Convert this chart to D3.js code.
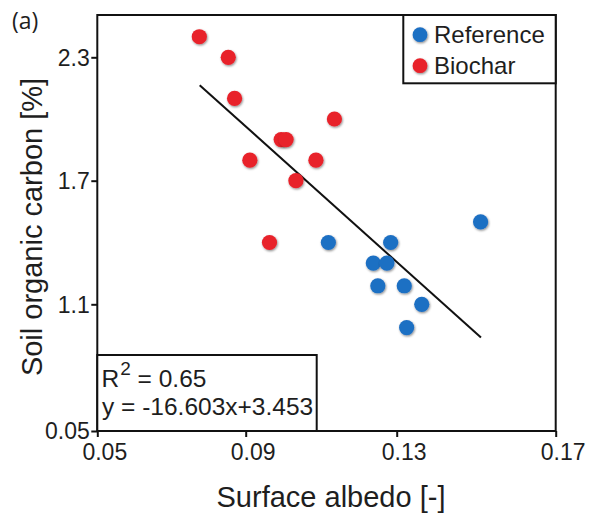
<!DOCTYPE html>
<html>
<head>
<meta charset="utf-8">
<script src="https://cdn.jsdelivr.net/npm/d3@7"></script>
<style>
  html, body { margin: 0; padding: 0; background: #fff; }
  svg { display: block; }
  svg text { font-family: "Liberation Sans", Arial, Helvetica, sans-serif; fill: #1e1e1e; }
  svg text.panel { font-family: "Open Sans", sans-serif; }
</style>
</head>
<body>
<svg id="chart" width="589" height="515"></svg>
<script>
// Axis ticks
const xTicks = [0.05, 0.09, 0.13, 0.17];
const xTickLabels = ["0.05", "0.09", "0.13", "0.17"];
const yTicks = [0.5, 1.1, 1.7, 2.3];
const yTickLabels = ["0.05", "1.1", "1.7", "2.3"];

// Reference plots: surface albedo [-] and soil organic carbon [%]
const referenceAlbedo = [0.1119, 0.1284, 0.1238, 0.1274, 0.1250, 0.1319, 0.1363, 0.1325, 0.1511];
const referenceSOC    = [1.40,   1.40,   1.30,   1.30,   1.19,   1.19,   1.10,   0.99,   1.50];

// Biochar plots
const biocharAlbedo = [0.0775, 0.0853, 0.0870, 0.0994, 0.1007, 0.0911, 0.0963, 0.1033, 0.1135, 0.1086];
const biocharSOC    = [2.40,   2.30,   2.10,   1.90,   1.90,   1.80,   1.40,   1.70,   2.00,   1.80];

// Linear fit across both groups
const fitSlope = -16.603;
const fitIntercept = 3.453;
const fitR2 = 0.65;
const fitAlbedoRange = [0.0776, 0.1512];

const seriesNames = ["Reference", "Biochar"];
const seriesColors = ["#1f6fc3", "#e8212a"];

const svg = d3.select("#chart");

const x = d3.scaleLinear().domain(xTicks).range([97.3, 245.7, 396.7, 555.7]);
const y = d3.scaleLinear().domain(yTicks).range([431, 304.3, 180.7, 57.3]);

const plotLeft = x(0.05), plotRight = x(0.17), plotBottom = y(0.5), plotTop = 15;

// soft drop shadow under the markers
const defs = svg.append("defs");
const shadow = defs.append("filter").attr("id", "dotShadow")
  .attr("x", "-50%").attr("y", "-50%").attr("width", "200%").attr("height", "200%");
shadow.append("feDropShadow").attr("dx", 0.8).attr("dy", 1.2)
  .attr("stdDeviation", 1.3).attr("flood-color", "#000").attr("flood-opacity", 0.45);

// panel label
svg.append("text").attr("class", "panel").attr("x", 12).attr("y", 29)
  .attr("font-size", 23).text("(a)");

// axes
const xAxis = d3.axisBottom(x).tickValues(xTicks)
  .tickFormat((d, i) => xTickLabels[i]).tickSize(6).tickSizeOuter(0);
const yAxis = d3.axisLeft(y).tickValues(yTicks)
  .tickFormat((d, i) => yTickLabels[i]).tickSize(6).tickSizeOuter(0);

const gx = svg.append("g").attr("transform", `translate(0,${plotBottom})`).call(xAxis);
gx.attr("font-family", null).attr("font-size", null);
gx.select(".domain").remove();
gx.selectAll(".tick line").attr("stroke", "#111").attr("stroke-width", 2);
gx.selectAll(".tick text").attr("font-size", 23)
  .attr("fill", null).attr("dx", 7).attr("y", 29).attr("dy", 0);

const gy = svg.append("g").attr("transform", `translate(${plotLeft},0)`).call(yAxis);
gy.attr("font-family", null).attr("font-size", null);
gy.select(".domain").remove();
gy.selectAll(".tick line").attr("stroke", "#111").attr("stroke-width", 2);
gy.selectAll(".tick text").attr("font-size", 23)
  .attr("fill", null).attr("x", -7.5).attr("dy", "0.34em");

// plot frame
svg.append("rect").attr("x", plotLeft).attr("y", plotTop)
  .attr("width", plotRight - plotLeft).attr("height", plotBottom - plotTop)
  .attr("fill", "none").attr("stroke", "#111").attr("stroke-width", 2);

// axis titles
svg.append("text").attr("x", 331).attr("y", 507)
  .attr("text-anchor", "middle").attr("font-size", 29)
  .text("Surface albedo [-]");
svg.append("text").attr("transform", "translate(42,227) rotate(-90)")
  .attr("text-anchor", "middle").attr("font-size", 29)
  .text("Soil organic carbon [%]");

// regression line
const fitLine = d3.line().x(d => x(d)).y(d => y(fitSlope * d + fitIntercept));
svg.append("path").datum(fitAlbedoRange).attr("d", fitLine)
  .attr("fill", "none").attr("stroke", "#111").attr("stroke-width", 2);

// points
const groups = [
  { xs: referenceAlbedo, ys: referenceSOC, color: seriesColors[0] },
  { xs: biocharAlbedo, ys: biocharSOC, color: seriesColors[1] }
];
groups.forEach(g => {
  svg.append("g").selectAll("circle")
    .data(g.xs.map((v, i) => [v, g.ys[i]]))
    .join("circle")
    .attr("cx", d => x(d[0])).attr("cy", d => y(d[1])).attr("r", 7.6)
    .attr("fill", g.color).attr("filter", "url(#dotShadow)");
});

// legend
const lg = svg.append("g");
lg.append("rect").attr("x", 403.3).attr("y", plotTop).attr("width", plotRight - 403.3).attr("height", 68.3)
  .attr("fill", "#fff").attr("stroke", "#111").attr("stroke-width", 2);
seriesNames.forEach((name, i) => {
  const cy = 34.7 + i * 31;
  lg.append("circle").attr("cx", 420).attr("cy", cy).attr("r", 7.4)
    .attr("fill", seriesColors[i]).attr("filter", "url(#dotShadow)");
  lg.append("text").attr("x", 434).attr("y", cy + 8.6)
    .attr("font-size", 24).text(name);
});

// fit statistics box
const eb = svg.append("g");
eb.append("rect").attr("x", plotLeft).attr("y", 355).attr("width", 316.7 - plotLeft).attr("height", plotBottom - 355)
  .attr("fill", "#fff").attr("stroke", "#111").attr("stroke-width", 2);
const r2 = eb.append("text").attr("x", 101.5).attr("y", 386.7).attr("font-size", 24.5);
r2.append("tspan").text("R");
r2.append("tspan").attr("font-size", 19).attr("dx", 1).attr("dy", -11.5).text("2");
r2.append("tspan").attr("dy", 11.5).text(` = ${fitR2.toFixed(2)}`);
eb.append("text").attr("x", 102).attr("y", 415).attr("font-size", 24.5)
  .text(`y = ${fitSlope}x+${fitIntercept}`);
</script>
</body>
</html>
